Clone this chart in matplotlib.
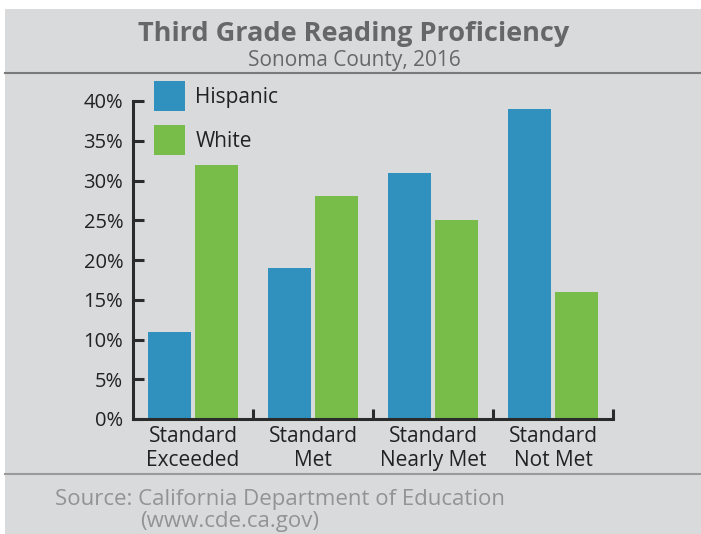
import matplotlib
matplotlib.use("Agg")
import matplotlib.pyplot as plt
import numpy as np
from matplotlib.patches import Rectangle
from matplotlib.lines import Line2D

categories = ["Standard\nExceeded", "Standard\nMet", "Standard\nNearly Met", "Standard\nNot Met"]
hispanic = [11, 19, 31, 39]
white = [32, 28, 25, 16]
yticks = [0, 5, 10, 15, 20, 25, 30, 35, 40]
ytick_labels = [f"{v}%" for v in yticks]

W, H = 701, 534
plt.rcParams['font.family'] = ['Open Sans', 'DejaVu Sans']
fig = plt.figure(figsize=(W/100, H/100), dpi=100)
fig.patch.set_facecolor('white')

bg = '#d9dadc'
fig.patches.append(Rectangle((5/W, 0), 1 - 5/W, 1 - 9/H, transform=fig.transFigure,
                             facecolor=bg, edgecolor='none', zorder=-10))
fig.lines.append(Line2D([5/W, 1], [1 - 73/H, 1 - 73/H], transform=fig.transFigure,
                        color='#7a7a7a', lw=1.5))
fig.lines.append(Line2D([5/W, 1], [1 - 474/H, 1 - 474/H], transform=fig.transFigure,
                        color='#9a9a9a', lw=1.5))

fig.text(354/W, 1 - 34/H, "Third Grade Reading Proficiency", ha='center', va='center',
         fontsize=19.5, fontweight='bold', color='#666769')
fig.text(354/W, 1 - 61/H, "Sonoma County, 2016", ha='center', va='center',
         fontsize=15, color='#666769')
fig.text(55/W, 1 - 499/H, "Source: California Department of Education", ha='left', va='center',
         fontsize=16, color='#929395')
fig.text(140/W, 1 - 521/H, "(www.cde.ca.gov)", ha='left', va='center',
         fontsize=16, color='#929395')

ax = fig.add_axes([133/W, (H - 419)/H, 480/W, 318/H])
ax.set_facecolor('none')
x = np.arange(len(categories))
bw = 0.36
off = 0.196
ax.bar(x - off, hispanic, bw, color='#3090be', label='Hispanic')
ax.bar(x + off, white, bw, color='#78bd4a', label='White')
ax.set_xlim(-0.5, 3.5)
ax.set_ylim(0, 40)

for s in ['top', 'right']:
    ax.spines[s].set_visible(False)
for s in ['left', 'bottom']:
    ax.spines[s].set_linewidth(2.2)
    ax.spines[s].set_color('#2b2b2b')
    ax.spines[s].set_capstyle('projecting')

ax.set_yticks(yticks)
ax.set_yticklabels(ytick_labels)
ax.tick_params(axis='y', direction='in', length=8, width=2.2, color='#2b2b2b',
               labelsize=14.5, labelcolor='#222222', pad=7)
ax.set_xticks(x)
ax.set_xticklabels(categories, linespacing=1.2)
ax.set_xticks([0.5, 1.5, 2.5, 3.5], minor=True)
ax.tick_params(axis='x', which='major', length=0, labelsize=15, labelcolor='#222222', pad=5)
ax.tick_params(axis='x', which='minor', direction='in', length=7, width=2.2, color='#2b2b2b')

fs = 15
leg = ax.legend(loc='upper left', bbox_to_anchor=(154/W, 1 - 81/H), bbox_transform=fig.transFigure,
                frameon=False, fontsize=fs, handlelength=31/(fs*1.389), handleheight=(30/(fs*1.389) - 0.245)/0.65,
                labelspacing=14/(fs*1.389), handletextpad=0.5, borderpad=0, borderaxespad=0)
for t in leg.get_texts():
    t.set_color('#222222')

fig.savefig('out.png', dpi=100, facecolor=fig.get_facecolor())
